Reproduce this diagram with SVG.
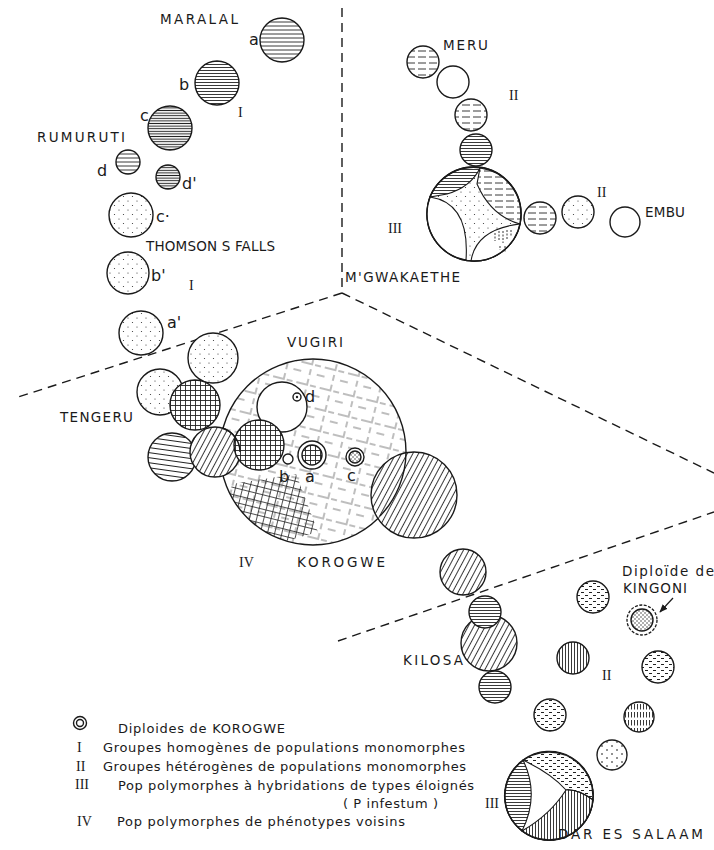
<svg xmlns="http://www.w3.org/2000/svg" width="714" height="850" viewBox="0 0 714 850">
<style>
.c{stroke:#1a1a1a;stroke-width:1.4}
.o{fill:none;stroke:#1a1a1a;stroke-width:1.4}
.lb{font-family:"DejaVu Sans","Liberation Sans",Arial,sans-serif;font-size:13.5px;fill:#1a1a1a}
.lt{font-family:"DejaVu Sans","Liberation Sans",Arial,sans-serif;font-size:16px;fill:#1a1a1a}
.rn{font-family:"Liberation Serif","Times New Roman",serif;font-size:14px;fill:#1a1a1a}
.lg{font-family:"DejaVu Sans","Liberation Sans",Arial,sans-serif;font-size:13px;fill:#1a1a1a}
.dl{fill:none;stroke:#1a1a1a;stroke-width:1.4;stroke-dasharray:9 6}
</style>
<defs>
<pattern id="hl4" width="6" height="4" patternUnits="userSpaceOnUse"><rect width="6" height="4" fill="#fff"/><path d="M0 2H6" stroke="#222" stroke-width="0.9"/></pattern>
<pattern id="hl3" width="6" height="3" patternUnits="userSpaceOnUse"><rect width="6" height="3" fill="#fff"/><path d="M0 1.5H6" stroke="#222" stroke-width="0.9"/></pattern>
<pattern id="hl25" width="6" height="2.6" patternUnits="userSpaceOnUse"><rect width="6" height="2.6" fill="#fff"/><path d="M0 1.3H6" stroke="#222" stroke-width="1"/></pattern>
<pattern id="hl5" width="6" height="5" patternUnits="userSpaceOnUse" patternTransform="rotate(8)"><rect width="6" height="5" fill="#fff"/><path d="M0 2.5H6" stroke="#222" stroke-width="1"/></pattern>
<pattern id="hd" width="11" height="6" patternUnits="userSpaceOnUse"><rect width="11" height="6" fill="#fff"/><path d="M0 3H8" stroke="#222" stroke-width="0.9"/></pattern>
<pattern id="dt" width="9" height="9" patternUnits="userSpaceOnUse"><rect width="9" height="9" fill="#fff"/><circle cx="2" cy="3" r="0.6" fill="#333"/><circle cx="6.5" cy="7.5" r="0.6" fill="#333"/></pattern>
<pattern id="dd" width="4" height="4" patternUnits="userSpaceOnUse"><rect width="4" height="4" fill="#fff"/><circle cx="1" cy="1" r="0.7" fill="#222"/><circle cx="3" cy="3" r="0.7" fill="#222"/></pattern>
<pattern id="xh" width="5" height="5" patternUnits="userSpaceOnUse"><rect width="5" height="5" fill="#fff"/><path d="M0 0.5H5M0.5 0V5" stroke="#222" stroke-width="0.9"/></pattern>
<pattern id="dg" width="5" height="5" patternUnits="userSpaceOnUse" patternTransform="rotate(28)"><rect width="5" height="5" fill="#fff"/><path d="M2.5 0V5" stroke="#222" stroke-width="0.9"/></pattern>
<pattern id="vl" width="3" height="6" patternUnits="userSpaceOnUse"><rect width="3" height="6" fill="#fff"/><path d="M1.5 0V6" stroke="#222" stroke-width="0.9"/></pattern>
<pattern id="vd" width="3" height="8" patternUnits="userSpaceOnUse"><rect width="3" height="8" fill="#fff"/><path d="M1.5 0V5.5" stroke="#222" stroke-width="0.9"/></pattern>
<pattern id="dr" width="8" height="6" patternUnits="userSpaceOnUse"><rect width="8" height="6" fill="#fff"/><path d="M1 1.5h3M5 4.5h3" stroke="#222" stroke-width="1"/></pattern>
<pattern id="dr2" width="10" height="8" patternUnits="userSpaceOnUse"><rect width="10" height="8" fill="#fff"/><path d="M1 2h2M6 6h2" stroke="#222" stroke-width="1"/></pattern>
<pattern id="kg" width="24" height="21" patternUnits="userSpaceOnUse" patternTransform="rotate(14)"><rect width="24" height="21" fill="#fff"/><path d="M0 5H24M7 0V21" stroke="#444" stroke-width="0.7" stroke-dasharray="6 4"/><path d="M14 14H22" stroke="#444" stroke-width="0.7"/></pattern>
<pattern id="kgd" width="7" height="7" patternUnits="userSpaceOnUse" patternTransform="rotate(14)"><path d="M0 3.5H7M3.5 0V7" stroke="#222" stroke-width="0.8"/></pattern>
<clipPath id="kgc"><circle cx="313" cy="452" r="93"/></clipPath>
<marker id="ar" viewBox="0 0 10 10" refX="9" refY="5" markerWidth="7" markerHeight="7" orient="auto"><path d="M0 1L10 5L0 9Z" fill="#1a1a1a"/></marker>
</defs>
<rect width="714" height="850" fill="#fff"/>

<g id="connectors">
<path class="dl" d="M342 8V293"/>
<path class="dl" d="M342 293L15 398"/>
<path class="dl" d="M342 293L714 473"/>
<path class="dl" d="M338 641L714 512"/>
<path d="M673 598L660 612" fill="none" stroke="#1a1a1a" stroke-width="1.2" marker-end="url(#ar)"/>
</g>

<g id="maralal">
<circle class="c" cx="282" cy="40" r="22" fill="url(#hl4)"/>
<circle class="c" cx="217" cy="83" r="22" fill="url(#hl3)"/>
<circle class="c" cx="170" cy="128" r="22" fill="url(#hl25)"/>
<text class="lb" x="160" y="24" textLength="78">MARALAL</text>
<text class="lt" x="249" y="45">a</text>
<text class="lt" x="179" y="90">b</text>
<text class="lt" x="140" y="121">c</text>
<text class="rn" x="238" y="117">I</text>
</g>
<g id="rumuruti">
<circle class="c" cx="128" cy="162" r="12" fill="url(#hl4)"/>
<circle class="c" cx="168" cy="177" r="12" fill="url(#hl25)"/>
<text class="lb" x="37" y="142" textLength="88">RUMURUTI</text>
<text class="lt" x="97" y="176">d</text>
<text class="lt" x="182" y="189">d'</text>
</g>
<g id="thomson-falls">
<circle class="c" cx="131" cy="215" r="22" fill="url(#dt)"/>
<circle class="c" cx="128" cy="273" r="21" fill="url(#dt)"/>
<circle class="c" cx="141" cy="333" r="22" fill="url(#dt)"/>
<text class="lt" x="156" y="222">c·</text>
<text class="lb" x="146" y="251" textLength="129">THOMSON S FALLS</text>
<text class="lt" x="151" y="281">b'</text>
<text class="rn" x="189" y="290">I</text>
<text class="lt" x="167" y="328">a'</text>
</g>

<g id="meru">
<circle class="c" cx="423" cy="62" r="16" fill="url(#hd)"/>
<circle class="c" cx="453" cy="82" r="16" fill="#fff"/>
<circle class="c" cx="471" cy="115" r="16" fill="url(#hd)"/>
<circle class="c" cx="476" cy="150" r="16" fill="url(#hl3)"/>
<text class="lb" x="443" y="50" textLength="45">MERU</text>
<text class="rn" x="509" y="100">II</text>
</g>
<g id="mgwakaethe">
<circle class="c" cx="474" cy="214" r="47" fill="url(#dt)"/>
<path d="M430 197A47 47 0 0 1 480 168Q471 187 447 194Z" fill="url(#hl3)" stroke="#1a1a1a" stroke-width="1.1"/>
<path d="M480 168A47 47 0 0 1 520 224Q491 216 477 184Z" fill="url(#hd)" stroke="#1a1a1a" stroke-width="1.1"/>
<path d="M520 224A47 47 0 0 1 471 261Q476 229 520 224Z" fill="#fff" stroke="#1a1a1a" stroke-width="1.1"/>
<path d="M495 233v8M499 231v10M503 231v12M507 230v9M511 230v7M500 246v4M505 246v6" stroke="#222" stroke-width="0.9" stroke-dasharray="2 1.5"/>
<path d="M466 260A47 47 0 0 1 430 197Q470 203 466 260Z" fill="#fff" stroke="#1a1a1a" stroke-width="1.1"/>
<circle class="o" cx="474" cy="214" r="47"/>
<text class="rn" x="388" y="233">III</text>
<text class="lb" x="345" y="282" textLength="115">M'GWAKAETHE</text>
</g>
<g id="embu">
<circle class="c" cx="540" cy="218" r="16" fill="url(#hd)"/>
<circle class="c" cx="578" cy="212" r="16" fill="url(#dt)"/>
<circle class="c" cx="625" cy="222" r="15" fill="#fff"/>
<text class="rn" x="597" y="197">II</text>
<text class="lb" x="645" y="217" textLength="40">EMBU</text>
</g>

<g id="tengeru">
<circle class="c" cx="213" cy="358" r="25" fill="url(#dt)"/>
<circle class="c" cx="160" cy="392" r="23" fill="url(#dt)"/>
<circle class="c" cx="195" cy="405" r="25" fill="url(#xh)"/>
<circle class="c" cx="172" cy="457" r="24" fill="url(#hl5)"/>
<text class="lb" x="60" y="422" textLength="73">TENGERU</text>
</g>
<g id="korogwe">
<g clip-path="url(#kgc)">
<rect x="218" y="358" width="190" height="190" fill="url(#kg)"/>
<path d="M232 484L296 474L318 532L268 546L226 514Z" fill="url(#kgd)"/>
</g>
<circle class="o" cx="313" cy="452" r="93"/>
<circle class="c" cx="215" cy="452" r="25" fill="url(#dg)"/>
<circle class="c" cx="282" cy="407" r="25" fill="#fff"/>
<circle class="c" cx="297" cy="397" r="4" fill="#fff"/>
<circle cx="297" cy="397" r="1.2" fill="#222"/>
<circle class="c" cx="259" cy="445" r="25" fill="url(#xh)"/>
<circle class="c" cx="288" cy="459" r="5" fill="#fff"/>
<circle class="c" cx="312" cy="455" r="14" fill="#fff"/>
<circle class="c" cx="312" cy="455" r="10" fill="url(#xh)"/>
<circle class="c" cx="355" cy="457" r="9" fill="#fff"/>
<circle class="c" cx="355" cy="457" r="6" fill="url(#dd)"/>
<circle class="c" cx="414" cy="495" r="43" fill="url(#dg)"/>
<path class="o" d="M406 452A93 93 0 0 1 380 516"/>
<path class="o" d="M240 452A25 25 0 0 0 222 428"/>
<text class="lb" x="287" y="347" textLength="56">VUGIRI</text>
<text class="lt" x="305" y="402">d</text>
<text class="lt" x="279" y="482">b</text>
<text class="lt" x="305" y="482">a</text>
<text class="lt" x="347" y="481">c</text>
<text class="rn" x="239" y="567">IV</text>
<text class="lb" x="297" y="567" textLength="88">KOROGWE</text>
</g>

<g id="kilosa">
<circle class="c" cx="463" cy="572" r="23" fill="url(#dg)"/>
<circle class="c" cx="489" cy="643" r="28" fill="url(#dg)"/>
<circle class="c" cx="485" cy="612" r="16" fill="url(#hl3)"/>
<circle class="c" cx="495" cy="687" r="16" fill="url(#hl3)"/>
<text class="lb" x="403" y="665" textLength="60">KILOSA</text>
</g>
<g id="kingoni">
<circle class="c" cx="593" cy="597" r="16" fill="url(#dr)"/>
<circle cx="642" cy="620" r="15" fill="#fff" stroke="#1a1a1a" stroke-width="1.3" stroke-dasharray="3 1.5"/>
<circle class="c" cx="642" cy="620" r="11" fill="url(#dd)"/>
<circle class="c" cx="573" cy="658" r="16" fill="url(#vl)"/>
<circle class="c" cx="658" cy="667" r="16" fill="url(#dr)"/>
<circle class="c" cx="550" cy="715" r="16" fill="url(#dr)"/>
<circle class="c" cx="639" cy="717" r="15" fill="url(#vd)"/>
<circle class="c" cx="612" cy="755" r="15" fill="url(#dr2)"/>
<text class="lb" x="622" y="576" textLength="92">Diploïde de</text>
<text class="lb" x="623" y="593" textLength="64">KINGONI</text>
<text class="rn" x="602" y="680">II</text>
</g>
<g id="dar-es-salaam">
<circle class="c" cx="549" cy="796" r="44" fill="#fff"/>
<path d="M523 760A44 44 0 0 1 593 800Q578 789 566 790Q552 774 523 760Z" fill="url(#dr)" stroke="#1a1a1a" stroke-width="1.1"/>
<path d="M593 800A44 44 0 0 1 522 831Q550 815 566 790Q578 789 593 800Z" fill="url(#vl)" stroke="#1a1a1a" stroke-width="1.1"/>
<path d="M523 760A44 44 0 0 0 522 831Q540 795 523 760Z" fill="url(#hl3)" stroke="#1a1a1a" stroke-width="1.1"/>
<circle class="o" cx="549" cy="796" r="44"/>
<text class="rn" x="485" y="808">III</text>
<text class="lb" x="558" y="839" textLength="145">DAR ES SALAAM</text>
</g>

<g id="legend">
<circle class="o" cx="80" cy="723" r="6.5" stroke-width="1.5"/>
<circle class="o" cx="80" cy="723" r="3.5" stroke-width="1.3"/>
<text class="lg" x="118" y="733" textLength="167">Diploides de KOROGWE</text>
<text class="rn" x="77" y="752">I</text>
<text class="lg" x="103" y="752" textLength="362">Groupes homogènes de populations monomorphes</text>
<text class="rn" x="76" y="771">II</text>
<text class="lg" x="103" y="771" textLength="363">Groupes hétérogènes de populations monomorphes</text>
<text class="rn" x="75" y="789">III</text>
<text class="lg" x="118" y="790" textLength="356">Pop polymorphes à hybridations de types éloignés</text>
<text class="lg" x="343" y="808" textLength="95">( P infestum )</text>
<text class="rn" x="77" y="826">IV</text>
<text class="lg" x="117" y="826" textLength="288">Pop polymorphes de phénotypes voisins</text>
</g>
</svg>
